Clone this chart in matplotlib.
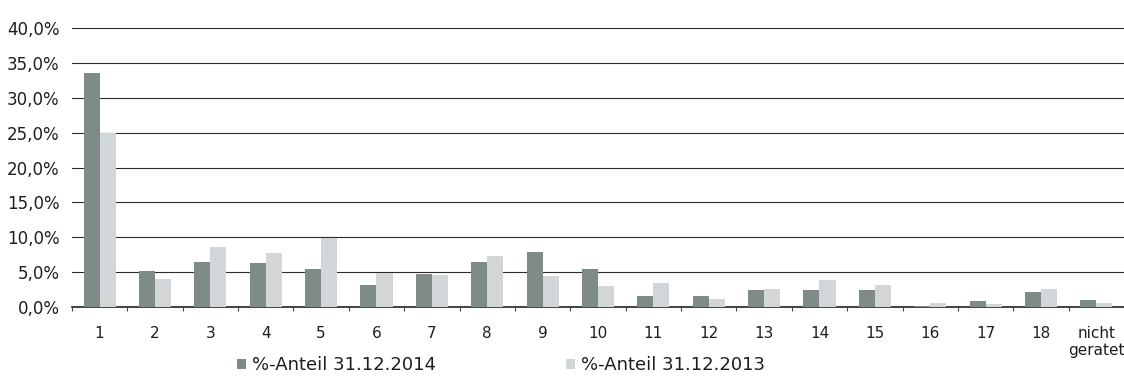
import numpy as np
import matplotlib.pyplot as plt
from matplotlib.ticker import FuncFormatter, MultipleLocator

# Anteile je Kategorie (in %)
kategorien = ["1", "2", "3", "4", "5", "6", "7", "8", "9", "10",
              "11", "12", "13", "14", "15", "16", "17", "18", "nicht\ngeratet"]
anteil_2014 = [33.6, 5.1, 6.4, 6.3, 5.5, 3.1, 4.8, 6.5, 7.9, 5.4,
               1.6, 1.6, 2.5, 2.5, 2.4, 0.15, 0.8, 2.2, 1.0]
anteil_2013 = [25.0, 4.0, 8.6, 7.8, 9.9, 4.9, 4.6, 7.3, 4.5, 3.0,
               3.5, 1.1, 2.6, 3.9, 3.2, 0.6, 0.5, 2.6, 0.6]
label_2014 = "%-Anteil 31.12.2014"
label_2013 = "%-Anteil 31.12.2013"

farbe_2014 = "#7f8c85"
farbe_2013 = "#d2d6d8"

plt.rcParams["font.family"] = "DejaVu Sans"

fig = plt.figure(figsize=(11.24, 3.79), dpi=100)
ax = fig.add_axes([0.064, 0.19, 0.936, 0.736])

x = np.arange(len(kategorien))
b = 0.29
ax.bar(x - b / 2, anteil_2014, width=b, color=farbe_2014, label=label_2014, zorder=3)
ax.bar(x + b / 2, anteil_2013, width=b, color=farbe_2013, label=label_2013, zorder=3)

ax.set_xlim(-0.5, len(kategorien) - 0.5)
ax.set_ylim(0, 40)
ax.yaxis.set_major_locator(MultipleLocator(5))
ax.yaxis.set_major_formatter(FuncFormatter(lambda v, p: f"{v:.1f}".replace(".", ",") + "%"))
ax.grid(axis="y", color="#2a2a2a", linewidth=0.8, zorder=0)

ax.set_xticks(x)
ax.set_xticklabels(kategorien, fontsize=11, color="#1e1e1e", linespacing=1.15)
ax.set_xticks(np.arange(len(kategorien) + 1) - 0.5, minor=True)
ax.tick_params(axis="x", which="major", length=0, pad=14)
ax.tick_params(axis="x", which="minor", length=3, width=0.8, color="#444444")
ax.tick_params(axis="y", length=0, pad=9, labelsize=12, labelcolor="#1e1e1e")

for s in ["top", "right", "left"]:
    ax.spines[s].set_visible(False)
ax.spines["bottom"].set_color("#222222")
ax.spines["bottom"].set_linewidth(1.2)

fig.legend(loc="lower left", bbox_to_anchor=(0.196, -0.03), ncol=2, frameon=False,
           fontsize=13, handlelength=0.5, handleheight=0.5, handletextpad=0.35,
           columnspacing=7.2, labelcolor="#1e1e1e")

fig.savefig("out.png", dpi=100)
